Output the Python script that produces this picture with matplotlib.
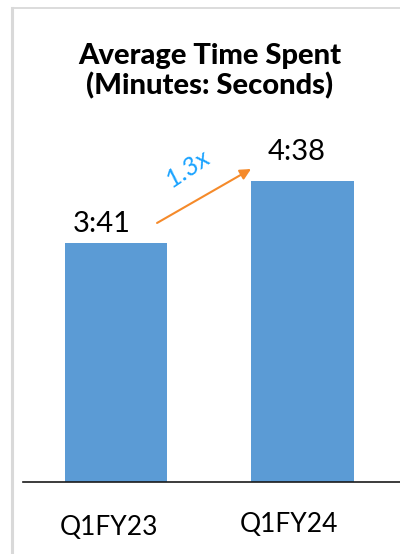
import matplotlib.pyplot as plt
from matplotlib.lines import Line2D

quarters = ['Q1FY23', 'Q1FY24']
seconds = [221, 278]          # 3:41 and 4:38
value_labels = ['3:41', '4:38']
growth_label = '1.3x'

plt.rcParams['font.family'] = ['Lato', 'DejaVu Sans']

fig = plt.figure(figsize=(4, 5.54), dpi=100)
ax = fig.add_axes([0.0575, 0.13, 0.9425, 0.7256])

ax.bar(range(len(quarters)), seconds, width=0.552, color='#5B9BD5')
ax.set_xlim(-0.499, 1.523)
ax.set_ylim(0, 371.7)

# value labels above bars (small per-label nudges to follow the original)
lbl_dx = [-0.075, -0.03]
lbl_dy = [17.6, 26.7]
for i, (v, t) in enumerate(zip(seconds, value_labels)):
    ax.text(i + lbl_dx[i], v + lbl_dy[i], t, ha='center', va='center',
            fontsize=21, color='black')

# category labels under the axis
tick_dx = [-0.04, -0.07]
tick_dy = [-0.113, -0.106]
for i, q in enumerate(quarters):
    ax.text(i + tick_dx[i], tick_dy[i], q, ha='center', va='center',
            fontsize=19, color='black', transform=ax.get_xaxis_transform())

# growth arrow between bars
ax.annotate('', xy=(0.724, seconds[1] + 11.4), xytext=(0.22, seconds[0] + 18.5),
            arrowprops=dict(arrowstyle='-|>', color='#F58A2A', lw=1.5,
                            mutation_scale=16, shrinkA=0, shrinkB=0))
ax.text(0.381, 290.4, growth_label, ha='center', va='center', fontsize=19,
        style='italic', color='#1AA3FF', rotation=34)

ax.set_xticks([])
ax.set_yticks([])
for s in ['top', 'right', 'left']:
    ax.spines[s].set_visible(False)
ax.spines['bottom'].set_linewidth(1.2)
ax.spines['bottom'].set_color('#1a1a1a')

fig.text(0.525, 0.872, 'Average Time Spent\n(Minutes: Seconds)', ha='center',
         va='center', fontsize=21, fontweight='black', linespacing=1.15)

# light frame on left and top
fig.add_artist(Line2D([11.5 / 400, 11.5 / 400], [0, 1 - 8 / 554],
                      transform=fig.transFigure, color='#D9D9D9', lw=2.2))
fig.add_artist(Line2D([11.5 / 400, 1], [1 - 8 / 554, 1 - 8 / 554],
                      transform=fig.transFigure, color='#D9D9D9', lw=1.3))

fig.savefig('out.png', dpi=100)
